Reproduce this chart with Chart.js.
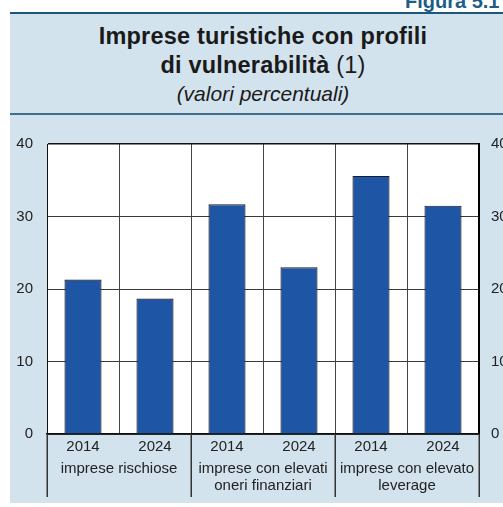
<!DOCTYPE html>
<html>
<head>
<meta charset="utf-8">
<script src="https://cdn.jsdelivr.net/npm/chart.js@4.4.1/dist/chart.umd.min.js"></script>
<style>
  html, body { margin: 0; padding: 0; background: #ffffff; }
  #wrap { position: relative; width: 503px; height: 507px; overflow: hidden; font-family: "Liberation Sans", Arial, sans-serif; }
  #panel { position: absolute; left: 10px; top: 12px; width: 506px; height: 491px; background: #d3e3ee; border-top: 2px solid #1d5878; box-sizing: border-box; }
  #sep { position: absolute; left: 10px; top: 113px; width: 506px; height: 2px; background: #3f6f8c; }
  .t { position: absolute; left: 10px; width: 506px; text-align: center; color: #1a1a1a; white-space: nowrap; }
  #t1 { top: 25px; font-size: 23.5px; line-height: 23.5px; font-weight: bold; letter-spacing: 0.2px; }
  #t2 { top: 54px; font-size: 23.5px; line-height: 23.5px; font-weight: bold; letter-spacing: 0.2px; }
  #t2 span { font-weight: normal; }
  #t3 { top: 83px; font-size: 21px; line-height: 21px; font-style: italic; }
  #fig { position: absolute; left: 405px; top: -9px; font-size: 20px; line-height: 20px; font-weight: bold; color: #1b5f86; white-space: nowrap; }
  canvas { position: absolute; left: 0; top: 0; }
</style>
</head>
<body>
<div id="wrap">
  <div id="fig">Figura 5.1</div>
  <div id="panel"></div>
  <div id="sep"></div>
  <div class="t" id="t1">Imprese turistiche con profili</div>
  <div class="t" id="t2">di vulnerabilità <span>(1)</span></div>
  <div class="t" id="t3">(valori percentuali)</div>
  <canvas id="c" width="503" height="507"></canvas>
</div>
<script>
// ---- data ----
const years = ['2014', '2024', '2014', '2024', '2014', '2024'];
const groups = ['imprese rischiose', ['imprese con elevati', 'oneri finanziari'], ['imprese con elevato', 'leverage']];
const values = [21.3, 18.7, 31.7, 23.0, 35.6, 31.5];
const yTicks = [0, 10, 20, 30, 40];

const FONT = '"Liberation Sans", Arial, sans-serif';

const plotBg = {
  id: 'plotBg',
  beforeDraw(chart) {
    const { ctx, chartArea: a } = chart;
    ctx.save();
    ctx.fillStyle = '#ffffff';
    ctx.fillRect(a.left, a.top, a.right - a.left, a.bottom - a.top);
    ctx.restore();
  }
};

const groupSep = {
  id: 'groupSep',
  afterDraw(chart) {
    const { ctx } = chart;
    const x = chart.scales.x;
    const x2 = chart.scales.x2;
    ctx.save();
    ctx.strokeStyle = '#333333';
    ctx.lineWidth = 1.5;
    for (let i = 0; i <= 6; i += 2) {
      const px = Math.round(x.getPixelForValue(i - 0.5)) + 0.25;
      ctx.beginPath();
      ctx.moveTo(px, x.top);
      ctx.lineTo(px, x2.bottom - 10);
      ctx.stroke();
    }
    ctx.restore();
  }
};

new Chart(document.getElementById('c'), {
  type: 'bar',
  data: {
    labels: years,
    datasets: [{
      data: values,
      backgroundColor: '#1f55a5',
      borderColor: '#161e2e',
      borderWidth: 1.2,
      barPercentage: 0.515,
      categoryPercentage: 1.0
    }]
  },
  options: {
    responsive: false,
    animation: false,
    devicePixelRatio: 1,
    layout: { padding: { top: 144, left: 0, right: 0, bottom: 0 } },
    plugins: { legend: { display: false }, tooltip: { enabled: false }, title: { display: false } },
    scales: {
      x: {
        type: 'category',
        position: 'bottom',
        offset: true,
        grid: { offset: true, color: '#454545', lineWidth: 1, drawTicks: false },
        border: { color: '#111111', width: 1.5 },
        ticks: { color: '#222222', font: { family: FONT, size: 15 }, padding: 4, maxRotation: 0, autoSkip: false },
        afterFit(s) { s.height = 24; }
      },
      x2: {
        type: 'category',
        position: 'bottom',
        labels: groups,
        offset: true,
        grid: { drawOnChartArea: false, drawTicks: false, display: false },
        border: { display: false },
        ticks: { color: '#222222', font: { family: FONT, size: 15, lineHeight: 1.1 }, padding: 3, maxRotation: 0, autoSkip: false },
        afterFit(s) { s.height = 49; }
      },
      y: {
        position: 'left',
        min: 0, max: 40,
        afterBuildTicks(s) { s.ticks = yTicks.map(v => ({ value: v })); },
        grid: {
          color: (c) => c.tick && c.tick.value === 40 ? '#111111' : '#3a3a3a',
          lineWidth: (c) => c.tick && c.tick.value === 40 ? 1.5 : 1,
          drawTicks: false
        },
        border: { color: '#111111', width: 1 },
        ticks: { color: '#222222', font: { family: FONT, size: 15 }, padding: 14 },
        afterFit(s) { s.width = 47; }
      },
      y2: {
        position: 'right',
        min: 0, max: 40,
        afterBuildTicks(s) { s.ticks = yTicks.map(v => ({ value: v })); },
        grid: { drawOnChartArea: false, drawTicks: false },
        border: { color: '#000000', width: 2 },
        ticks: { color: '#222222', font: { family: FONT, size: 15 }, padding: 12 },
        afterFit(s) { s.width = 24; }
      }
    }
  },
  plugins: [plotBg, groupSep]
});
</script>
</body>
</html>
